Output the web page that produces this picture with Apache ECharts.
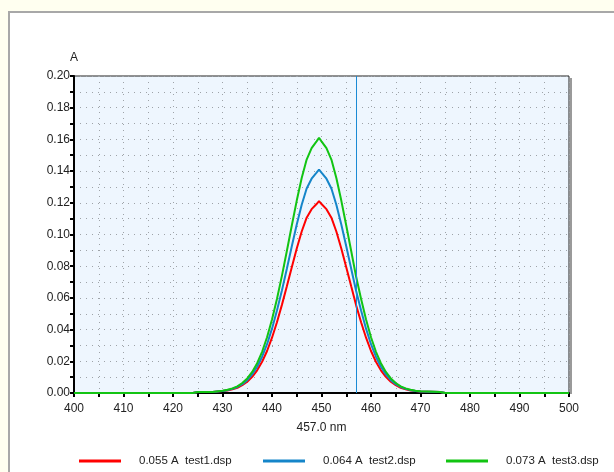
<!DOCTYPE html>
<html>
<head>
<meta charset="utf-8">
<style>
  html, body { margin: 0; padding: 0; background: #fffff0; }
  #main { width: 614px; height: 472px; }
</style>
<script src="https://cdn.jsdelivr.net/npm/echarts@6/dist/echarts.min.js"></script>
</head>
<body>
<div id="main"></div>
<script>
// wavelength (nm)
const wavelengths = [400, 424, 425, 428,
  430, 431, 432, 433, 434, 435, 436, 437, 438, 439,
  440, 441, 442, 443, 444, 445, 446, 447, 448, 449, 449.5,
  450, 451, 452, 453, 454, 455, 456, 457, 458, 459,
  460, 461, 462, 463, 464, 465, 466, 467, 468, 469,
  470, 474, 475, 500]

// absorbance (A)
const test1 = [0, 0, 0.0006, 0.0006,
  0.0012, 0.0016, 0.0023, 0.0033, 0.0049, 0.0071, 0.0102, 0.0143, 0.0197, 0.0265,
  0.0349, 0.0446, 0.0556, 0.0673, 0.0794, 0.0912, 0.1019, 0.1106, 0.1160, 0.1192, 0.1210,
  0.1192, 0.1160, 0.1106, 0.1019, 0.0912, 0.0794, 0.0673, 0.0553, 0.0446, 0.0349,
  0.0265, 0.0197, 0.0143, 0.0102, 0.0071, 0.0049, 0.0033, 0.0023, 0.0016, 0.0012,
  0.0009, 0.0006, 0, 0]
const test2 = [0, 0, 0.0006, 0.0006,
  0.0013, 0.0018, 0.0026, 0.0038, 0.0056, 0.0081, 0.0117, 0.0166, 0.0229, 0.0308,
  0.0406, 0.0520, 0.0647, 0.0784, 0.0926, 0.1063, 0.1188, 0.1290, 0.1352, 0.1390, 0.1410,
  0.1390, 0.1352, 0.1290, 0.1188, 0.1063, 0.0926, 0.0784, 0.0643, 0.0520, 0.0406,
  0.0308, 0.0229, 0.0166, 0.0117, 0.0081, 0.0056, 0.0038, 0.0026, 0.0018, 0.0013,
  0.0010, 0.0006, 0, 0]
const test3 = [0, 0, 0.0006, 0.0006,
  0.0014, 0.0020, 0.0029, 0.0042, 0.0063, 0.0092, 0.0133, 0.0188, 0.0260, 0.0352,
  0.0464, 0.0593, 0.0739, 0.0896, 0.1057, 0.1214, 0.1356, 0.1473, 0.1545, 0.1588, 0.1610,
  0.1588, 0.1545, 0.1473, 0.1356, 0.1214, 0.1057, 0.0896, 0.0733, 0.0593, 0.0464,
  0.0352, 0.0260, 0.0188, 0.0133, 0.0092, 0.0063, 0.0042, 0.0029, 0.0020, 0.0014,
  0.0011, 0.0006, 0, 0]

const seriesNames = ['test1.dsp', 'test2.dsp', 'test3.dsp']
const cursorValues = ['0.055', '0.064', '0.073']
const cursorAt = 457.0
const colors = ['#ff0000', '#1585c9', '#12c412']

const chart = echarts.init(document.getElementById('main'))
const font = 'Liberation Sans, Arial, sans-serif'
const dotted = { color: '#9ea3a8', width: 1, type: [1, 5] }

const zip = (vals) => wavelengths.map((w, i) => [w, vals[i]])
const allValues = [test1, test2, test3]

// one legend per item so each sits at its own spot
const legendLefts = [74, 258, 441]
const legends = seriesNames.map((name, i) => ({
  data: [name],
  left: legendLefts[i],
  top: 450,
  icon: 'rect',
  itemWidth: 42,
  itemHeight: 3,
  itemGap: 0,
  selectedMode: false,
  formatter: () => cursorValues[i] + ' A  ' + name,
  textStyle: { fontFamily: font, fontSize: 11.5, color: '#222', padding: [0, 0, 0, 13] }
}))

const option = {
  animation: false,
  backgroundColor: '#fffff0',
  graphic: [
    {
      type: 'rect', z: -10, silent: true,
      shape: { x: 9, y: 12, width: 620, height: 480 },
      style: { fill: '#ffffff', stroke: '#a8a8a8', lineWidth: 2 }
    },
    {
      type: 'rect', z: 10, silent: true,
      shape: { x: 570, y: 78, width: 2, height: 316 },
      style: { fill: '#9a9a9a' }
    }
  ],
  grid: {
    left: 74, right: 45, top: 76, bottom: 79,
    show: true,
    backgroundColor: '#eef6fe',
    borderColor: '#222',
    borderWidth: 1
  },
  legend: legends,
  xAxis: {
    type: 'value',
    min: 400, max: 500, interval: 10,
    name: cursorAt.toFixed(1) + ' nm',
    nameLocation: 'middle',
    nameGap: 29,
    nameTextStyle: { fontFamily: font, fontSize: 12, color: '#222' },
    axisLine: { lineStyle: { color: '#000', width: 2 } },
    axisTick: { length: 4, lineStyle: { color: '#000', width: 2 } },
    minorTick: { show: true, splitNumber: 2, length: 4, lineStyle: { color: '#000', width: 2 } },
    axisLabel: { fontFamily: font, fontSize: 12, color: '#222', margin: 10 },
    splitLine: { show: true, lineStyle: dotted },
    minorSplitLine: { show: true, lineStyle: dotted }
  },
  yAxis: {
    type: 'value',
    min: 0, max: 0.2, interval: 0.02,
    name: 'A',
    nameLocation: 'end',
    nameGap: 12,
    nameTextStyle: { fontFamily: font, fontSize: 12, color: '#222', align: 'center' },
    axisLine: { show: true, lineStyle: { color: '#000', width: 2 } },
    axisTick: { show: true, length: 4, lineStyle: { color: '#000', width: 2 } },
    minorTick: { show: true, splitNumber: 2, length: 4, lineStyle: { color: '#000', width: 2 } },
    axisLabel: { fontFamily: font, fontSize: 12, color: '#222', margin: 4, formatter: (v) => v.toFixed(2) },
    splitLine: { show: true, lineStyle: dotted },
    minorSplitLine: { show: true, lineStyle: dotted }
  },
  series: seriesNames.map((name, i) => ({
    name: name,
    type: 'line',
    data: zip(allValues[i]),
    showSymbol: false,
    lineStyle: { color: colors[i], width: 2 },
    itemStyle: { color: colors[i] },
    markLine: i === 1 ? {
      silent: true,
      symbol: 'none',
      label: { show: false },
      lineStyle: { color: '#1a8ad4', width: 1, type: 'solid' },
      data: [{ xAxis: cursorAt }]
    } : undefined
  }))
}

chart.setOption(option)
</script>
</body>
</html>
